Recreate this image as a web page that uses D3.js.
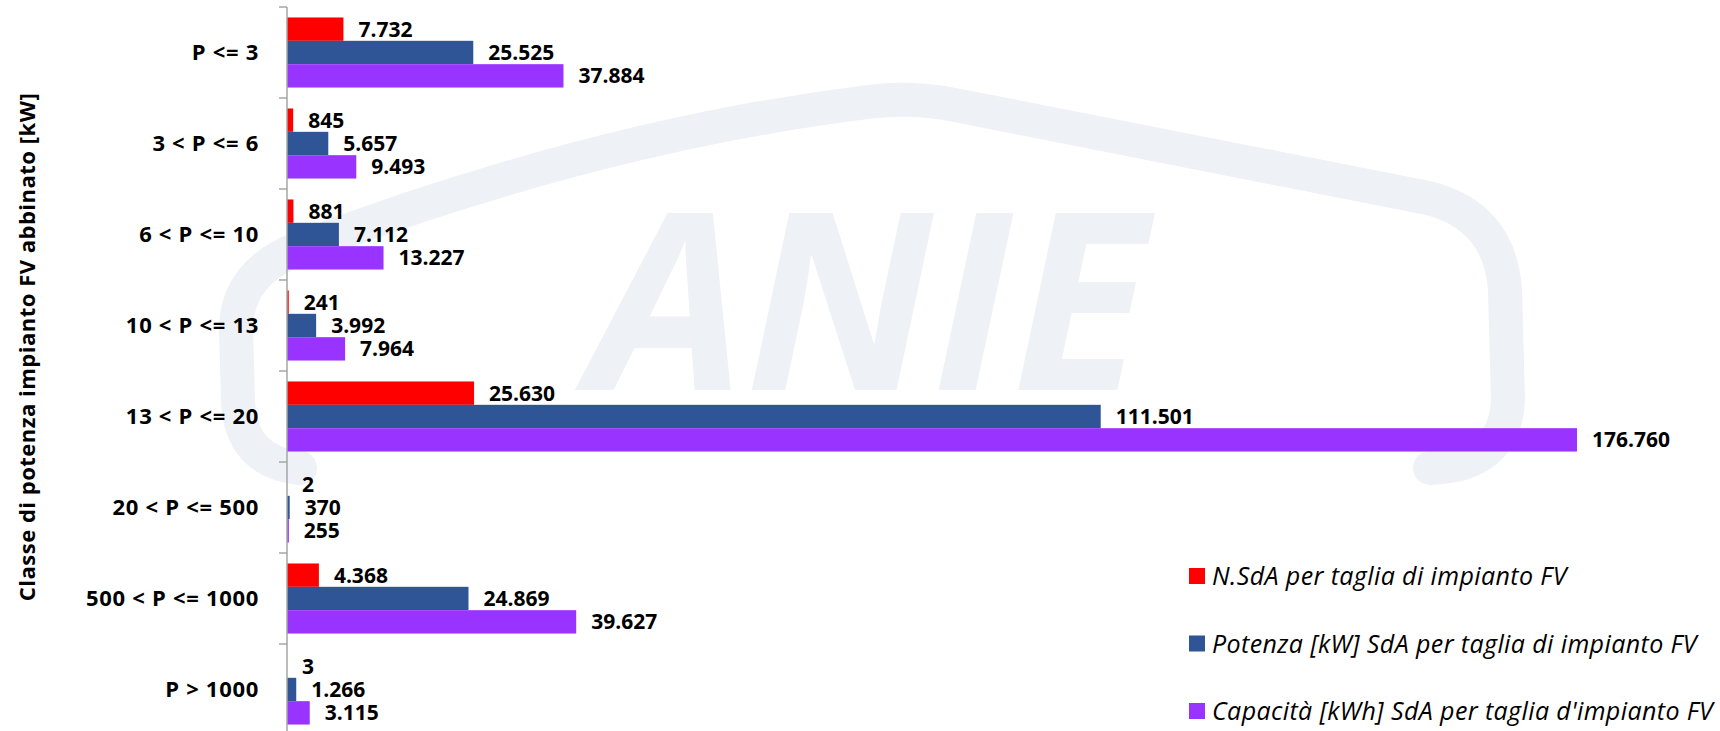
<!DOCTYPE html>
<html>
<head>
<meta charset="utf-8">
<script src="https://cdn.jsdelivr.net/npm/d3@7"></script>
<style>
  html, body { margin: 0; padding: 0; background: #fff; }
  svg { display: block; font-family: "Open Sans", sans-serif; }
</style>
</head>
<body>
<div id="chart"></div>
<script>
"use strict";

var classi = ["P <= 3", "3 < P <= 6", "6 < P <= 10", "10 < P <= 13", "13 < P <= 20", "20 < P <= 500", "500 < P <= 1000", "P > 1000"];
var nSdA = [7732, 845, 881, 241, 25630, 2, 4368, 3];
var potenza = [25525, 5657, 7112, 3992, 111501, 370, 24869, 1266];
var capacita = [37884, 9493, 13227, 7964, 176760, 255, 39627, 3115];
var serie = ["N.SdA per taglia di impianto FV", "Potenza [kW] SdA per taglia di impianto FV", "Capacità [kWh] SdA per taglia d'impianto FV"];
var colori = ["#ff0000", "#2f5597", "#9933ff"];

var W = 1720, H = 731;
var valori = [nSdA, potenza, capacita];

var it = d3.formatLocale({decimal: ",", thousands: ".", grouping: [3], currency: ["", "€"]});
var fmt = it.format(",d");

var svg = d3.select("#chart").append("svg")
	.attr("width", W)
	.attr("height", H);

// filigrana ANIE sullo sfondo
var wm = svg.append("g").attr("class", "watermark");
wm.append("path")
	.attr("d", "M300,468 Q240,462 238,400 L236,330 Q236,272 300,248 Q600,135 868,102 Q914,96 960,106 L1428,198 Q1500,216 1505,290 L1508,400 Q1505,466 1430,468")
	.attr("fill", "none")
	.attr("stroke", "#eef1f5")
	.attr("stroke-width", 34)
	.attr("stroke-linecap", "round")
	.attr("stroke-linejoin", "round");
wm.append("text")
	.attr("x", 868)
	.attr("y", 390)
	.attr("text-anchor", "middle")
	.attr("font-size", 248)
	.attr("font-weight", "bold")
	.attr("font-style", "italic")
	.attr("fill", "#eef1f5")
	.text("ANIE");

var x = d3.scaleLinear().domain([0, 200000]).range([287, 1746.6]);
var y = d3.scaleBand().domain(classi).range([7, 735]).paddingInner(0.23).paddingOuter(0.115);
var yStep = d3.scaleBand().domain(classi).range([7, 735]);
var ySub = d3.scaleBand().domain(d3.range(3)).range([0, y.bandwidth()]);

var gruppi = svg.append("g").selectAll("g")
	.data(classi)
	.join("g")
	.attr("transform", function (d) { return "translate(0," + y(d) + ")"; });

var barre = gruppi.selectAll("g.bar")
	.data(function (d, i) { return valori.map(function (s, k) { return {k: k, v: s[i]}; }); })
	.join("g")
	.attr("class", "bar");

barre.append("rect")
	.attr("x", x(0))
	.attr("y", function (d) { return ySub(d.k); })
	.attr("width", function (d) { return x(d.v) - x(0); })
	.attr("height", ySub.bandwidth())
	.attr("fill", function (d) { return colori[d.k]; });

barre.append("text")
	.attr("x", function (d) { return x(d.v) + 15; })
	.attr("y", function (d) { return ySub(d.k) + ySub.bandwidth() / 2; })
	.attr("dy", "0.36em")
	.attr("font-size", 21)
	.attr("font-weight", "bold")
	.attr("fill", "#000")
	.text(function (d) { return fmt(d.v); });

// asse categorie
var asse = svg.append("g")
	.attr("transform", "translate(" + x(0) + ",0)")
	.call(d3.axisLeft(yStep).tickSize(0).tickPadding(28));
asse.select(".domain").remove();
asse.selectAll("text")
	.attr("font-size", 22)
	.attr("font-weight", "bold")
	.attr("letter-spacing", 0.7)
	.attr("fill", "#000")
	.attr("font-family", "Open Sans");

var limiti = classi.map(function (d) { return yStep(d); }).concat([735]);
svg.append("line")
	.attr("x1", x(0)).attr("x2", x(0))
	.attr("y1", 7).attr("y2", H)
	.attr("stroke", "#a6a6a6")
	.attr("stroke-width", 1.5);
svg.append("g").selectAll("line")
	.data(limiti)
	.join("line")
	.attr("x1", x(0) - 8).attr("x2", x(0))
	.attr("y1", function (d) { return d; }).attr("y2", function (d) { return d; })
	.attr("stroke", "#a6a6a6")
	.attr("stroke-width", 1.5);

svg.append("text")
	.attr("transform", "translate(35,347) rotate(-90)")
	.attr("text-anchor", "middle")
	.attr("font-size", 22)
	.attr("font-weight", "bold")
	.attr("letter-spacing", 0.5)
	.attr("fill", "#000")
	.text("Classe di potenza impianto FV abbinato [kW]");

// legenda
var legenda = svg.append("g").selectAll("g")
	.data(serie)
	.join("g")
	.attr("transform", function (d, i) { return "translate(1189," + (576 + i * 67.5) + ")"; });
legenda.append("rect")
	.attr("x", 0).attr("y", -8)
	.attr("width", 16).attr("height", 16)
	.attr("fill", function (d, i) { return colori[i]; });
legenda.append("text")
	.attr("x", 23)
	.attr("dy", "0.36em")
	.attr("font-size", 25)
	.attr("font-style", "italic")
	.attr("letter-spacing", 0.4)
	.attr("fill", "#000")
	.text(function (d) { return d; });
</script>
</body>
</html>
